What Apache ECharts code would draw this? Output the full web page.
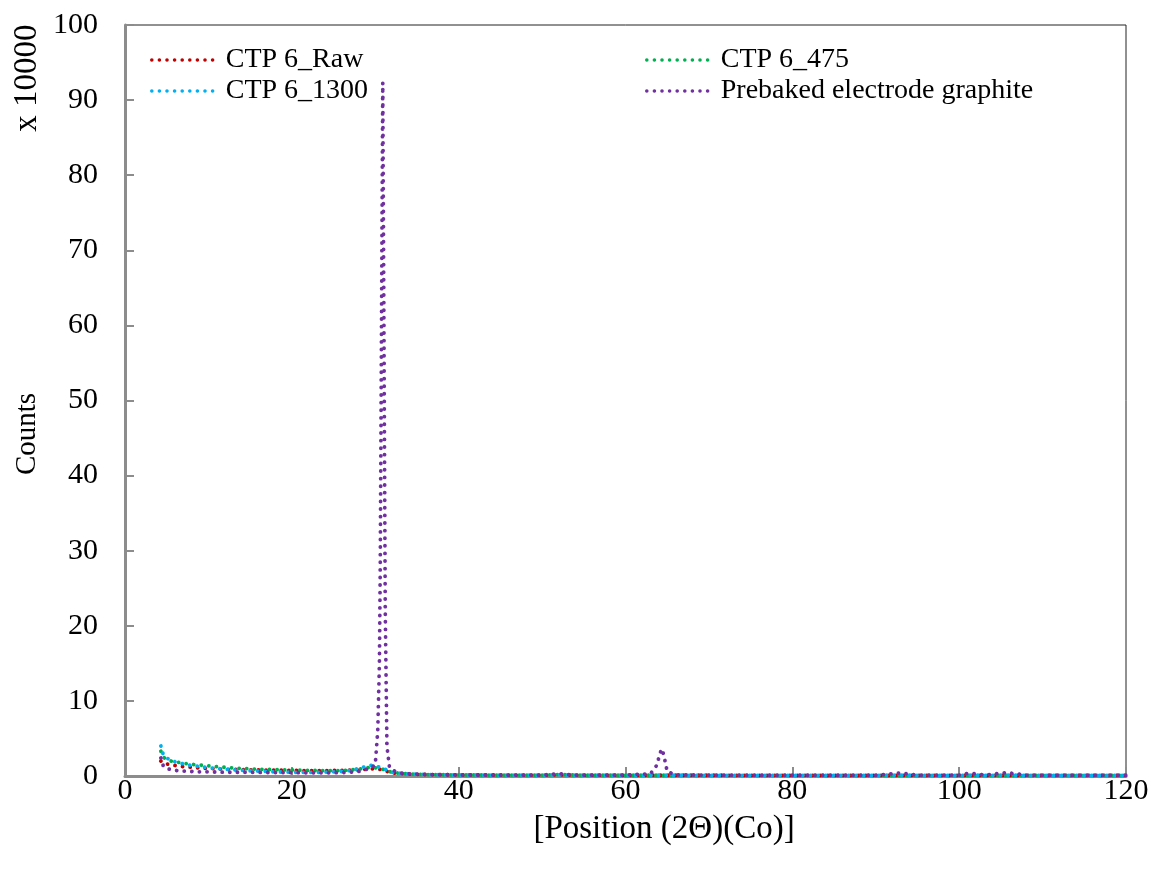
<!DOCTYPE html>
<html>
<head>
<meta charset="utf-8">
<title>XRD CTP 6</title>
<script src="https://cdn.jsdelivr.net/npm/echarts@6/dist/echarts.min.js"></script>
<style>
    html,body{margin:0;padding:0;background:#fff;}
    #chart{width:1152px;height:874px;}
</style>
</head>
<body>
<div id="chart"></div>
<script>
//x轴位置 2θ
var xPos = [4.3, 4.6, 5, 5.5, 6, 7, 8, 9, 10, 12, 14, 16, 18, 20, 22, 24, 26, 27, 28, 29, 29.5, 30,
    30.3, 30.5, 30.6, 30.75, 30.9, 31.05, 31.2, 31.4, 31.7,
    32, 33, 34, 35, 36, 38, 40, 45, 50, 52, 54, 60,
    63, 63.8, 64.1, 64.4, 64.7, 65, 66,
    70, 75, 80, 85, 90, 93, 95, 100, 101.3, 103, 105.7, 108, 110, 115, 120];

//计数 (x 10000)
var rawCounts = [2.0, 1.7, 1.6, 1.5, 1.4, 1.25, 1.15, 1.05, 1.0, 0.9, 0.85, 0.8, 0.78, 0.75, 0.72, 0.72, 0.75, 0.78, 0.82, 0.9, 0.95, 0.95,
    0.92, 0.9, 0.88, 0.85, 0.8, 0.75, 0.7, 0.62, 0.5,
    0.42, 0.32, 0.26, 0.22, 0.2, 0.18, 0.15, 0.13, 0.12, 0.15, 0.12, 0.1,
    0.1, 0.1, 0.1, 0.1, 0.1, 0.1, 0.1,
    0.1, 0.09, 0.09, 0.08, 0.08, 0.08, 0.08, 0.08, 0.08, 0.08, 0.08, 0.07, 0.07, 0.07, 0.07];
var c475Counts = [3.3, 2.5, 2.2, 2.0, 1.9, 1.7, 1.55, 1.45, 1.35, 1.15, 1.0, 0.9, 0.85, 0.8, 0.75, 0.7, 0.72, 0.8, 0.9, 1.1, 1.15, 1.1,
    1.05, 1.0, 0.98, 0.95, 0.9, 0.85, 0.8, 0.72, 0.6,
    0.48, 0.36, 0.28, 0.22, 0.2, 0.17, 0.15, 0.12, 0.12, 0.2, 0.12, 0.1,
    0.1, 0.1, 0.1, 0.1, 0.1, 0.1, 0.1,
    0.09, 0.09, 0.09, 0.08, 0.08, 0.1, 0.08, 0.08, 0.1, 0.08, 0.1, 0.08, 0.07, 0.07, 0.07];
var c1300Counts = [4.0, 2.8, 2.4, 2.1, 1.9, 1.6, 1.4, 1.25, 1.1, 0.9, 0.75, 0.65, 0.55, 0.5, 0.48, 0.5, 0.6, 0.75, 1.0, 1.3, 1.4, 1.35,
    1.25, 1.2, 1.15, 1.1, 1.0, 0.95, 0.9, 0.8, 0.65,
    0.5, 0.36, 0.28, 0.22, 0.2, 0.16, 0.14, 0.12, 0.12, 0.15, 0.12, 0.1,
    0.1, 0.1, 0.1, 0.1, 0.1, 0.1, 0.1,
    0.09, 0.09, 0.09, 0.09, 0.08, 0.12, 0.08, 0.08, 0.12, 0.08, 0.12, 0.08, 0.08, 0.07, 0.07];
var graphiteCounts = [2.4, 1.3, 1.0, 0.85, 0.75, 0.65, 0.6, 0.55, 0.55, 0.5, 0.5, 0.48, 0.45, 0.45, 0.42, 0.42, 0.45, 0.5, 0.6, 0.9, 1.1, 1.5,
    6, 15, 28, 60, 92.3, 58, 22, 4, 1.2,
    0.8, 0.4, 0.3, 0.25, 0.2, 0.17, 0.15, 0.12, 0.12, 0.3, 0.12, 0.12,
    0.3, 1.5, 3.0, 3.6, 2.2, 0.6, 0.15,
    0.12, 0.1, 0.1, 0.1, 0.1, 0.4, 0.1, 0.12, 0.4, 0.12, 0.45, 0.12, 0.1, 0.1, 0.1];

var seriesNames = ['CTP 6_Raw', 'CTP 6_475', 'CTP 6_1300', 'Prebaked electrode graphite'];
var seriesColors = ['#C00000', '#00B050', '#00B0F0', '#7030A0'];
var seriesValues = [rawCounts, c475Counts, c1300Counts, graphiteCounts];

var fontName = '"Liberation Serif", "Times New Roman", serif';
var axisGrey = '#8c8c8c';

//把x和y拼成点
function makePairs(values){
    var arr = [];
    for(var i=0;i<xPos.length;i++){
        arr.push([xPos[i], values[i]]);
    }
    return arr;
}

var dotLine = [0.1, 7.5];

var seriesList = [];
for(var i=0;i<seriesNames.length;i++){
    seriesList.push({
        name: seriesNames[i],
        type: 'line',
        data: makePairs(seriesValues[i]),
        symbol: 'none',
        showSymbol: false,
        color: seriesColors[i],
        lineStyle: {
            color: seriesColors[i],
            width: 3.8,
            type: dotLine,
            cap: 'round'
        },
        animation: false
    });
}

//图例位置，两列
var legendPos = [
    {left: 145, top: 41},
    {left: 640, top: 41},
    {left: 145, top: 72},
    {left: 640, top: 72}
];
var legendList = [];
for(var j=0;j<seriesNames.length;j++){
    legendList.push({
        data: [seriesNames[j]],
        left: legendPos[j].left,
        top: legendPos[j].top,
        itemWidth: 68,
        itemHeight: 14,
        selectedMode: false,
        itemStyle: {opacity: 0},
        lineStyle: {width: 3.5, type: dotLine, cap: 'round'},
        textStyle: {
            fontFamily: fontName,
            fontSize: 28,
            color: '#000',
            padding: [0, 0, 0, 1]
        }
    });
}

var myChart = echarts.init(document.getElementById('chart'));
var option = {
    backgroundColor: '#fff',
    animation: false,
    grid: {
        left: 125,
        right: 26,
        top: 25,
        bottom: 98,
        show: true,
        borderColor: '#222',
        borderWidth: 1
    },
    legend: legendList,
    xAxis: {
        type: 'value',
        min: 0,
        max: 120,
        interval: 20,
        axisLine: {show: true, onZero: false, lineStyle: {color: axisGrey, width: 3}},
        axisTick: {show: true, inside: true, length: 9, lineStyle: {color: axisGrey, width: 2}},
        axisLabel: {fontFamily: fontName, fontSize: 30, color: '#000', margin: 0},
        splitLine: {show: false}
    },
    yAxis: {
        type: 'value',
        min: 0,
        max: 100,
        interval: 10,
        axisLine: {show: true, onZero: false, lineStyle: {color: axisGrey, width: 3}},
        axisTick: {show: true, inside: true, length: 9, lineStyle: {color: axisGrey, width: 2}},
        axisLabel: {fontFamily: fontName, fontSize: 30, color: '#000', margin: 27},
        splitLine: {show: false}
    },
    //坐标轴标题
    graphic: [
        {
            type: 'text',
            x: 27,
            y: 78,
            rotation: Math.PI / 2,
            style: {
                text: 'x 10000',
                fontFamily: fontName,
                fontSize: 33,
                fill: '#000',
                align: 'center',
                verticalAlign: 'middle'
            }
        },
        {
            type: 'text',
            x: 27,
            y: 434,
            rotation: Math.PI / 2,
            style: {
                text: 'Counts',
                fontFamily: fontName,
                fontSize: 29,
                fill: '#000',
                align: 'center',
                verticalAlign: 'middle'
            }
        },
        {
            type: 'text',
            x: 664,
            y: 829,
            style: {
                text: '[Position (2\u0398)(Co)]',
                fontFamily: fontName,
                fontSize: 33,
                fill: '#000',
                align: 'center',
                verticalAlign: 'middle'
            }
        }
    ],
    series: seriesList
};
myChart.setOption(option);
</script>
</body>
</html>
